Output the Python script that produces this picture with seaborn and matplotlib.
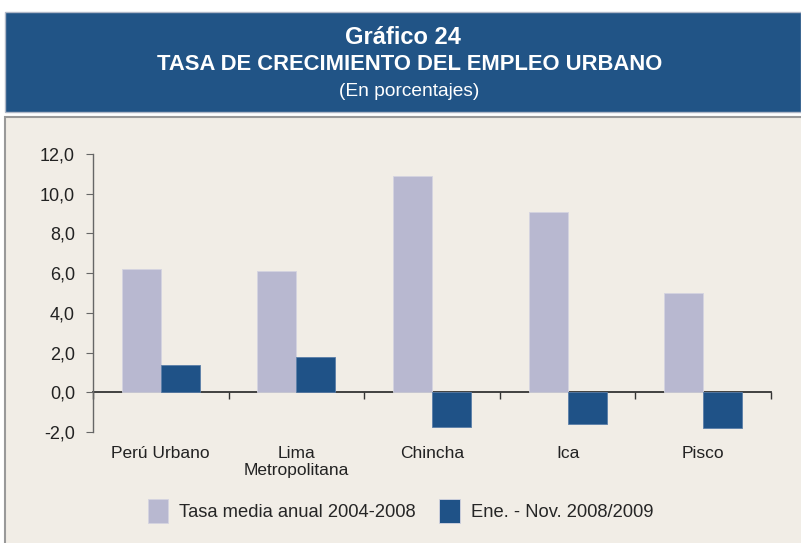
import numpy as np
import pandas as pd
import seaborn as sns
import matplotlib
matplotlib.use('Agg')
import matplotlib.pyplot as plt
from matplotlib.patches import Rectangle
from matplotlib.ticker import FuncFormatter

# Data
regions = ['Perú Urbano', 'Lima\nMetropolitana', 'Chincha', 'Ica', 'Pisco']
tasa_media = [6.2, 6.1, 10.9, 9.1, 5.0]
ene_nov = [1.35, 1.8, -1.75, -1.6, -1.8]
series_names = ['Tasa media anual 2004-2008', 'Ene. - Nov. 2008/2009']

LIGHT = '#B8B8D0'
DARK = '#1F5287'
HEADER = '#215486'
PANEL = '#F1EDE6'

sns.set_style('white')
plt.rcParams['font.family'] = ['Liberation Sans', 'DejaVu Sans']

df = pd.DataFrame({
    'region': regions * 2,
    'serie': [series_names[0]] * len(regions) + [series_names[1]] * len(regions),
    'valor': tasa_media + ene_nov,
})

fig = plt.figure(figsize=(8.01, 5.43), dpi=100)
fig.patch.set_facecolor('white')

# header band and chart panel (behind the axes)
fig.add_artist(Rectangle((5 / 801, 1 - 112 / 543), 1 - 5 / 801, 100 / 543,
                         transform=fig.transFigure, facecolor=HEADER, edgecolor='#B0B8C8',
                         lw=1, zorder=-10))
fig.add_artist(Rectangle((5 / 801, -0.01), 1, 1 - 117 / 543 + 0.01,
                         transform=fig.transFigure, facecolor=PANEL, edgecolor='#999999',
                         lw=1.5, zorder=-10))

fig.text(0.503, 1 - 38 / 543, 'Gráfico 24', ha='center', va='center',
         color='white', fontsize=17, fontweight='bold')
fig.text(0.511, 1 - 64 / 543, 'TASA DE CRECIMIENTO DEL EMPLEO URBANO', ha='center', va='center',
         color='white', fontsize=15.8, fontweight='bold')
fig.text(0.511, 1 - 92 / 543, '(En porcentajes)', ha='center', va='center',
         color='white', fontsize=13.8)

ax = fig.add_axes([93 / 801, 1 - 432 / 543, (771 - 93) / 801, (432 - 154) / 543])
ax.set_facecolor('none')

sns.barplot(data=df, x='region', y='valor', hue='serie', palette=[LIGHT, DARK],
            width=0.575, gap=0, ax=ax, legend=True, saturation=1,
            edgecolor='#D4D4E0', linewidth=0.6)
for bar in ax.containers[1]:
    bar.set_edgecolor('#5A7EA8')

ax.set_xlim(-0.5, 4.5)
ax.set_ylim(-2, 12)
ax.set_yticks(np.arange(-2, 13, 2))
ax.yaxis.set_major_formatter(FuncFormatter(lambda v, p: f'{v:.1f}'.replace('.', ',')))
ax.set_xlabel('')
ax.set_ylabel('')

for s in ['top', 'right', 'bottom']:
    ax.spines[s].set_visible(False)
ax.spines['left'].set_color('#666666')
ax.spines['left'].set_linewidth(1)
ax.tick_params(axis='y', length=5, direction='out', color='#666666', labelsize=13,
               labelcolor='#222222', pad=8, left=True)
ax.tick_params(axis='x', length=0, labelsize=12.5, labelcolor='#222222', pad=10)

# zero line with category boundary ticks
zero = ax.secondary_xaxis(2 / 14)
zero.set_xticks(np.arange(-0.5, 5, 1))
zero.tick_params(length=5, direction='out', color='#333333', labelbottom=False, width=1)
zero.spines['bottom'].set_color('#333333')
zero.spines['bottom'].set_linewidth(1.3)

handles, labels = ax.get_legend_handles_labels()
ax.get_legend().remove()
fig.legend(handles, labels, loc='center', bbox_to_anchor=(0.5, 1 - 511 / 543), ncol=2,
           frameon=False, fontsize=13.2, handlelength=1.1, handleheight=1.7,
           handletextpad=0.6, columnspacing=1.3)

fig.savefig('out.png', dpi=100)
